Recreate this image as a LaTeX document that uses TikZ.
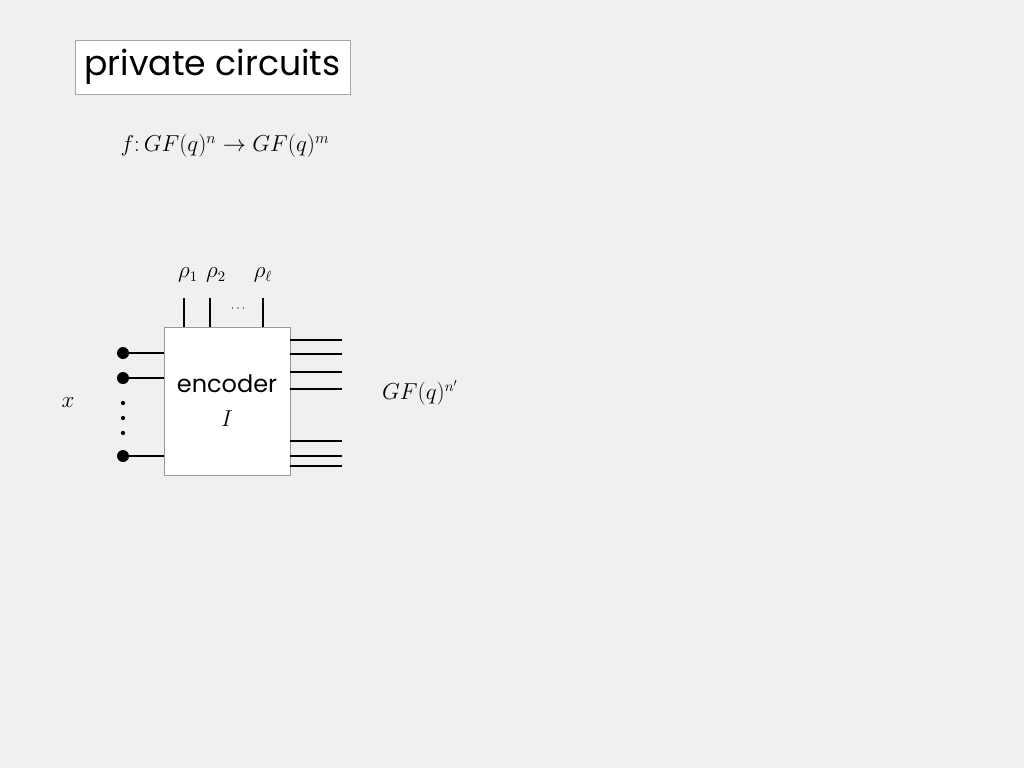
\documentclass[tikz,border=0pt]{standalone}
\usepackage{fontspec}
\newfontfamily\gothic{Poppins}
\begin{document}
\begin{tikzpicture}[x=0.75pt,y=-0.75pt,
  wire/.style={draw=black,line width=0.8pt},
  dotin/.style={circle,fill=black,inner sep=0pt,minimum size=9pt},
  txt/.style={inner sep=0pt}]
\fill[gray!12] (0,0) rectangle (1024,768);
\useasboundingbox (0,0) rectangle (1024,768);
\node[draw=gray!70,fill=white,minimum width=275*0.75pt,minimum height=54*0.75pt,font=\gothic\fontsize{26}{28}\selectfont] (title) at (212.5,67) {private circuits};
\node[txt,font=\fontsize{17}{20}\selectfont] (f) at (225,146) {$f\colon GF(q)^n \rightarrow GF(q)^m$};
\node[draw=gray!80,fill=white,minimum width=126*0.75pt,minimum height=148*0.75pt,inner sep=0pt] (enc) at (227,401) {};
\node[txt,font=\gothic\fontsize{18}{20}\selectfont] (et) at (227,384) {encoder};
\node[txt,font=\fontsize{19}{20}\selectfont] (it) at (227,419) {$I$};
% top wires
\coordinate (t1) at (184,298); \coordinate (t2) at (210,298); \coordinate (t3) at (263,298);
\draw[wire] (t1) -- (184,327); \draw[wire] (t2) -- (210,327); \draw[wire] (t3) -- (263,327);
\node[txt,font=\fontsize{16}{18}\selectfont] (r1) at (188,275) {$\rho_1$};
\node[txt,font=\fontsize{16}{18}\selectfont] (r2) at (216,275) {$\rho_2$};
\node[txt,font=\fontsize{16}{18}\selectfont] (r3) at (263,275) {$\rho_\ell$};
\node[txt,font=\small] (td) at (238,309) {$\cdots$};
% inputs
\node[dotin] (i1) at (123,353) {}; \node[dotin] (i2) at (123,378) {}; \node[dotin] (i3) at (123,456) {};
\draw[wire] (i1.center) -- (164,353); \draw[wire] (i2.center) -- (164,378); \draw[wire] (i3.center) -- (164,456);
\foreach \y in {403,418,433} \fill (123,\y) circle (1.6pt);
\node[txt,font=\fontsize{16}{18}\selectfont] (x) at (68,403) {$x$};
% outputs
\foreach \y in {340,354,372,389,441,456,466} \draw[wire] (290,\y) -- (342,\y);
\node[txt,font=\fontsize{16}{18}\selectfont] (gf) at (420,393) {$GF(q)^{n'}$};
\end{tikzpicture}
\end{document}
